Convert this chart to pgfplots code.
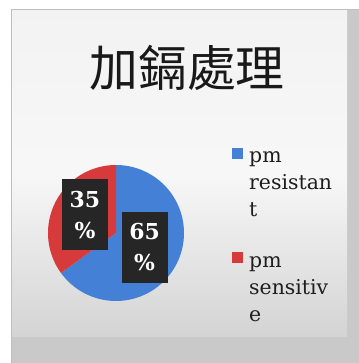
\documentclass[border=0pt]{standalone}
\usepackage{fontspec}
\setmainfont{DejaVu Serif}
\newfontfamily\cjk{Noto Sans CJK TC}
\usepackage{pgfplots}
\pgfplotsset{compat=1.18}
\usepackage{pgfplotstable}
\definecolor{pieblue}{RGB}{68,128,214}
\definecolor{piered}{RGB}{214,58,58}
\definecolor{boxdark}{RGB}{38,38,38}
\definecolor{txt}{RGB}{30,30,30}
\pgfplotstableread{
label value
resistant 65
sensitive 35
}\piedata
\pgfplotstablegetelem{0}{value}\of\piedata \let\va\pgfplotsretval
\pgfplotstablegetelem{1}{value}\of\piedata \let\vb\pgfplotsretval
\pgfmathsetmacro{\angsplit}{90-3.6*\va}
\pgfmathsetmacro{\angend}{\angsplit+360}
\begin{document}
\begin{tikzpicture}
\useasboundingbox (0,0) rectangle (359bp,363bp);
\fill[white] (0,0) rectangle (359bp,363bp);
% screenshot background
\fill[black!21] (11bp,0) rectangle (359bp,354bp);
\shade[top color=black!5, bottom color=black!17, middle color=black!3] (12bp,26bp) rectangle (347bp,352bp);
\draw[black!25, line width=1.5bp] (11.5bp,0) -- (11.5bp,353.5bp) -- (359bp,353.5bp);
% title
\node[text=black!90] at (187bp,295bp) {\cjk\fontsize{49}{49}\selectfont 加鎘處理};
\begin{axis}[
  at={(116bp,130bp)}, anchor=center,
  scale only axis, width=136bp, height=136bp,
  xmin=-1, xmax=1, ymin=-1, ymax=1,
  hide axis, clip=false,
]
\addplot[fill=pieblue, draw=none, domain=\angsplit:90, samples=90] ({cos(x)},{sin(x)}) -- (axis cs:0,0) -- cycle;
\addplot[fill=piered, draw=none, domain=90:\angend, samples=60] ({cos(x)},{sin(x)}) -- (axis cs:0,0) -- cycle;
\node[fill=boxdark, text=white, minimum width=46bp, minimum height=71bp, inner sep=0pt, align=center,
  font=\bfseries\fontsize{22}{31}\selectfont] at (axis cs:-0.456,0.265) {\vb\\\%};
\node[fill=boxdark, text=white, minimum width=46bp, minimum height=71bp, inner sep=0pt, align=center,
  font=\bfseries\fontsize{22}{31}\selectfont] at (axis cs:0.42,-0.21) {\va\\\%};
\end{axis}
% legend
\fill[pieblue] (232bp,204bp) rectangle (243bp,215bp);
\fill[piered] (232bp,100bp) rectangle (243bp,111bp);
\begin{scope}[every node/.style={anchor=base west, inner sep=0pt, text=txt, font=\fontsize{20.5}{24}\selectfont}]
\node at (249bp,200bp) {pm};
\node at (249bp,173bp) {resistan};
\node at (249bp,146bp) {t};
\node at (249bp,95bp) {pm};
\node at (249bp,68bp) {sensitiv};
\node at (249bp,41bp) {e};
\end{scope}
\end{tikzpicture}
\end{document}
